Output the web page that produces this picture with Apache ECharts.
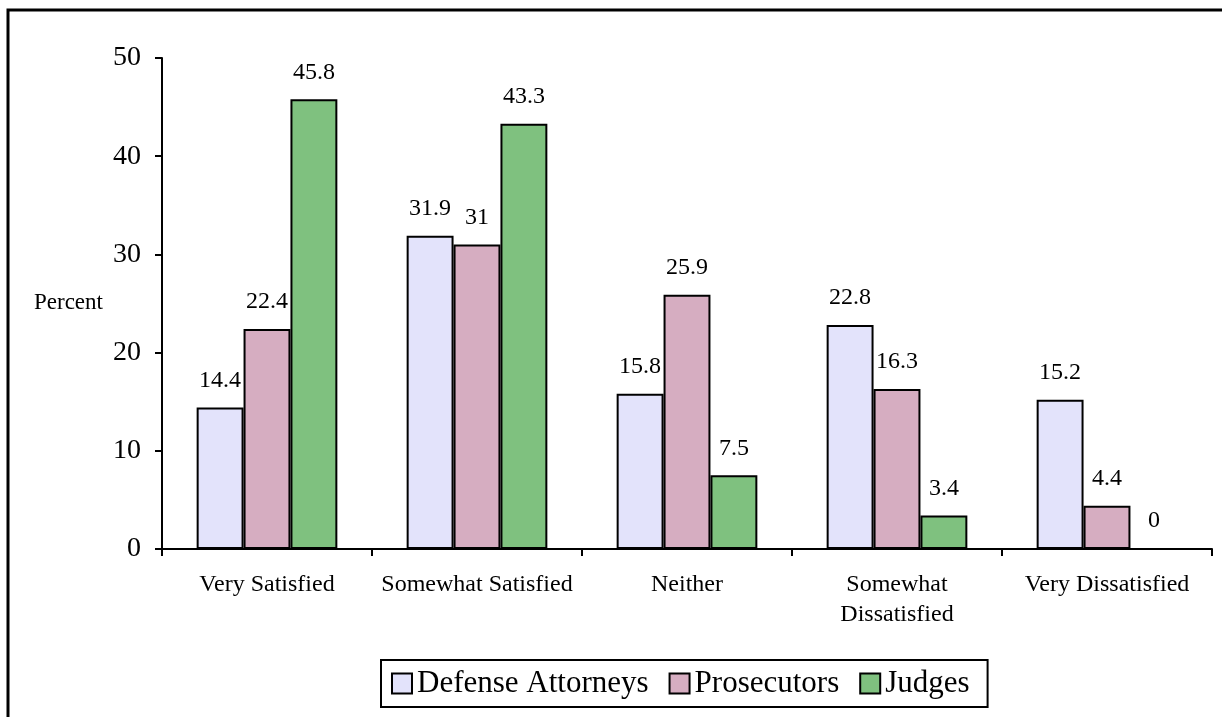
<!DOCTYPE html>
<html>
<head>
<meta charset="utf-8">
<script src="https://cdn.jsdelivr.net/npm/echarts@6/dist/echarts.min.js"></script>
<style>
  html, body { margin: 0; padding: 0; background: #fff; }
  #chart { width: 1222px; height: 717px; }
</style>
</head>
<body>
<div id="chart"></div>
<script>
// survey categories and percentages
const categories = ['Very Satisfied', 'Somewhat Satisfied', 'Neither', 'Somewhat\nDissatisfied', 'Very Dissatisfied'];
const defenseAttorneys = [14.4, 31.9, 15.8, 22.8, 15.2];
const prosecutors = [22.4, 31, 25.9, 16.3, 4.4];
const judges = [45.8, 43.3, 7.5, 3.4, 0];
const yTicks = [0, 10, 20, 30, 40, 50];

const serif = '"Liberation Serif", "Times New Roman", serif';

let chartElem = document.getElementById('chart');
let chart = echarts.init(chartElem);

function barSeries(name, data, color) {
    return {
        name: name,
        type: 'bar',
        data: data,
        barGap: '0%',
        barCategoryGap: '33%',
        itemStyle: {
            color: color,
            borderColor: '#000',
            borderWidth: 2
        },
        label: {
            show: true,
            position: 'top',
            distance: 15,
            color: '#000',
            fontFamily: serif,
            fontSize: 24
        }
    };
}

chart.setOption({
    animation: false,
    textStyle: { fontFamily: serif },
    graphic: [
        // outer frame (top + left edges only)
        {
            type: 'polyline',
            shape: { points: [[8, 717], [8, 10], [1222, 10]] },
            style: { stroke: '#000', lineWidth: 3, fill: null }
        },
        {
            type: 'text',
            left: 34,
            top: 291,
            style: { text: 'Percent', font: '23px ' + serif, fill: '#000' }
        }
    ],
    grid: {
        left: 162,
        right: 10,
        top: 58,
        bottom: 168
    },
    legend: {
        top: 660,
        left: 381,
        icon: 'rect',
        itemWidth: 20,
        itemHeight: 20,
        itemGap: 20,
        padding: [8, 18, 8, 10],
        borderColor: '#000',
        borderWidth: 2,
        textStyle: { fontFamily: serif, fontSize: 31, color: '#000' },
        itemStyle: { borderColor: '#000', borderWidth: 2 }
    },
    xAxis: {
        type: 'category',
        data: categories,
        axisLine: { lineStyle: { color: '#000', width: 2 } },
        axisTick: { show: true, length: 7, lineStyle: { color: '#000', width: 2 } },
        axisLabel: {
            color: '#000',
            fontFamily: serif,
            fontSize: 24,
            margin: 21,
            lineHeight: 30,
            interval: 0
        }
    },
    yAxis: {
        type: 'value',
        min: 0,
        max: 50,
        interval: 10,
        splitLine: { show: false },
        axisLine: { show: true, lineStyle: { color: '#000', width: 2 } },
        axisTick: { show: true, length: 7, lineStyle: { color: '#000', width: 2 } },
        axisLabel: {
            color: '#000',
            fontFamily: serif,
            fontSize: 28,
            margin: 21,
            formatter: function(v) { return yTicks.indexOf(v) >= 0 ? String(v) : ''; }
        }
    },
    series: [
        barSeries('Defense Attorneys', defenseAttorneys, '#e3e3fb'),
        barSeries('Prosecutors', prosecutors, '#d6adc1'),
        barSeries('Judges', judges, '#7fc17f')
    ]
});

window.addEventListener('resize', function() {
    setTimeout(() => {
        chart.resize();
    }, 500);
});
</script>
</body>
</html>
